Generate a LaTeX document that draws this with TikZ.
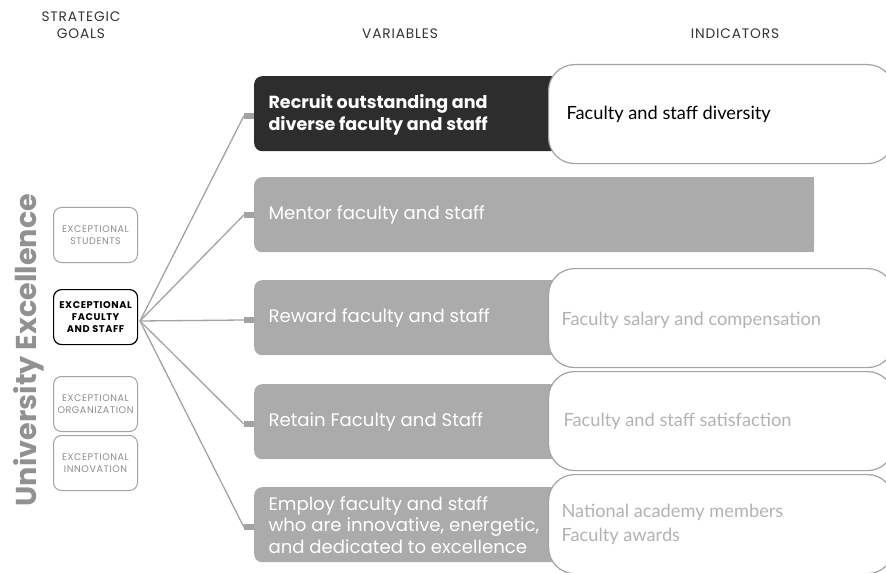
\documentclass[tikz,border=0pt]{standalone}
\usepackage{fontspec}
\setmainfont{Poppins}
\newfontfamily\indfont{Lato}
\newfontfamily\capsfont{Poppins}[LetterSpace=6]
\definecolor{darkbox}{HTML}{2D2D2D}
\definecolor{graybox}{HTML}{ABABAB}
\definecolor{connc}{HTML}{A3A3A3}
\definecolor{lighttext}{HTML}{B3B3B3}
\definecolor{goalgray}{HTML}{8C8C8C}
\definecolor{hdr}{HTML}{333333}
\begin{document}
\begin{tikzpicture}[x=1bp,y=-1bp,
  hdrtext/.style={font=\capsfont\fontsize{13.8}{17}\selectfont, text=hdr, align=center},
  varbox/.style={rounded corners=8bp, minimum height=75bp, anchor=north west, inner sep=0pt},
  vtext/.style={anchor=west, align=left, text=white, font=\fontsize{18.2}{21.5}\selectfont},
  indbox/.style={draw=goalgray!80, line width=1.2bp, fill=white, rounded corners=26bp, minimum width=345bp, minimum height=99bp, anchor=north west, inner sep=0pt},
  itext/.style={anchor=west, align=left, text=lighttext, font=\indfont\fontsize{18.3}{24}\selectfont},
  goalbox/.style={draw=goalgray!80, line width=1bp, rounded corners=8bp, minimum width=84bp, minimum height=55bp, anchor=north west, inner sep=0pt, align=center, text=goalgray, font=\capsfont\fontsize{9.6}{11.5}\selectfont},
  stubnode/.style={fill=connc, minimum width=10bp, minimum height=6bp, inner sep=0pt},
  conn/.style={draw=connc, line width=1.3bp}]
\useasboundingbox (0,0) rectangle (886,573);
% headers
\node[hdrtext] (h1) at (81,25) {STRATEGIC\\GOALS};
\node[hdrtext] (h2) at (400,34) {VARIABLES};
\node[hdrtext] (h3) at (735,34) {INDICATORS};
% title
\node[rotate=90, text=graybox!85!black, font=\bfseries\fontsize{28.8}{32}\selectfont] (title) at (29,350) {University Excellence};
% goal boxes
\node[goalbox] (g1) at (53,207) {EXCEPTIONAL\\STUDENTS};
\node[goalbox, draw=black, line width=1.2bp, text=black, font=\capsfont\bfseries\fontsize{9.8}{12.5}\selectfont] (g2) at (53,289) {EXCEPTIONAL\\FACULTY\\AND STAFF};
\node[goalbox] (g3) at (53,376) {EXCEPTIONAL\\ORGANIZATION};
\node[goalbox] (g4) at (53,435) {EXCEPTIONAL\\INNOVATION};
% variable boxes
\node[varbox, fill=darkbox, minimum width=320bp] (v1) at (254,76) {};
\node[varbox, fill=graybox, minimum width=560bp] (v2) at (254,177) {};
\fill[graybox] ([xshift=-20bp]v2.north east) rectangle (v2.south east);
\node[varbox, fill=graybox, minimum width=320bp] (v3) at (254,280) {};
\node[varbox, fill=graybox, minimum width=320bp] (v4) at (254,384) {};
\node[varbox, fill=graybox, minimum width=320bp] (v5) at (254,487) {};
% stubs
\node[stubnode] (s1) at (249,116) {};
\node[stubnode] (s2) at (249,215) {};
\node[stubnode] (s3) at (249,320) {};
\node[stubnode] (s4) at (249,424) {};
\node[stubnode] (s5) at (249,527) {};
% connectors
\coordinate (hub) at (140,321);
\foreach \i in {1,...,5} {\draw[conn] (hub) -- (s\i.west);}
% variable texts
\node[vtext, font=\bfseries\fontsize{17.6}{22}\selectfont] (t1) at (265,115) {Recruit outstanding and\\diverse faculty and staff};
\node[vtext] (t2) at (265,215) {Mentor faculty and staff};
\node[vtext] (t3) at (265,318) {Reward faculty and staff};
\node[vtext] (t4) at (265,422) {Retain Faculty and Staff};
\node[vtext] (t5) at (265,525) {Employ faculty and staff\\who are innovative, energetic,\\and dedicated to excellence};
% indicator boxes
\node[indbox] (i1) at (548,64) {};
\node[indbox] (i3) at (548,268) {};
\node[indbox] (i4) at (548,371) {};
\node[indbox] (i5) at (548,474) {};
\node[itext, text=black] (it1) at (563,114) {Faculty and staff diversity};
\node[itext] (it3) at (558,320) {Faculty salary and compensation};
\node[itext] (it4) at (560,421) {Faculty and staff satisfaction};
\node[itext] (it5) at (558,524) {National academy members\\Faculty awards};
\end{tikzpicture}
\end{document}
